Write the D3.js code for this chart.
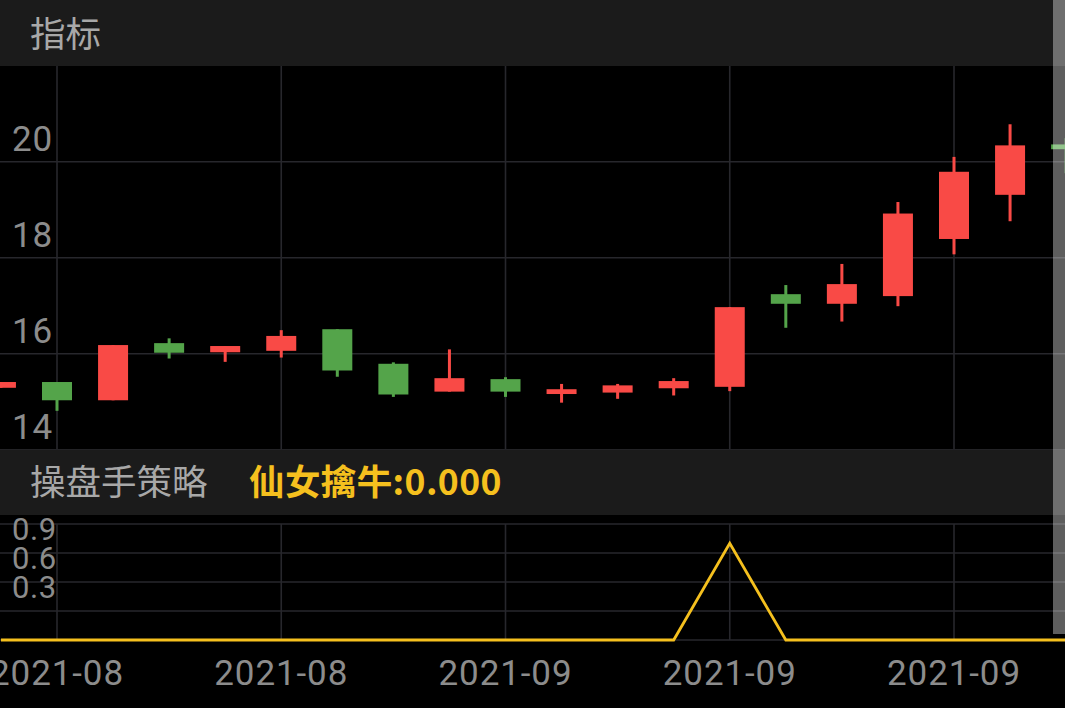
<!DOCTYPE html>
<html>
<head>
<meta charset="utf-8">
<script src="https://cdn.jsdelivr.net/npm/d3@7/dist/d3.min.js"></script>
<style>
  html, body { margin: 0; padding: 0; background: #000; overflow: hidden; }
  svg { display: block; }
</style>
</head>
<body>
<svg id="chart" width="1065" height="708"></svg>
<script>
// ---- data ----
const dates = ["2021-08-24","2021-08-25","2021-08-26","2021-08-27","2021-08-30","2021-08-31",
  "2021-09-01","2021-09-02","2021-09-03","2021-09-06","2021-09-07","2021-09-08","2021-09-09",
  "2021-09-10","2021-09-13","2021-09-14","2021-09-15","2021-09-16","2021-09-17","2021-09-22"];
const openVals  = [15.29, 15.41, 15.03, 16.22, 16.03, 16.06, 16.51, 15.79, 15.21, 15.47, 15.16, 15.19, 15.28, 15.31, 17.24, 17.04, 17.20, 18.39, 19.31, 20.36];
const closeVals = [15.41, 15.03, 16.18, 16.02, 16.16, 16.37, 15.65, 15.15, 15.49, 15.21, 15.26, 15.34, 15.43, 16.97, 17.04, 17.45, 18.92, 19.79, 20.34, 20.26];
const highVals  = [15.41, 15.41, 16.18, 16.32, 16.16, 16.49, 16.51, 15.82, 16.09, 15.51, 15.37, 15.37, 15.49, 16.97, 17.43, 17.87, 19.16, 20.10, 20.78, 20.49];
const lowVals   = [15.29, 14.81, 15.03, 15.90, 15.83, 15.92, 15.52, 15.10, 15.21, 15.10, 14.98, 15.06, 15.13, 15.22, 16.54, 16.67, 16.99, 18.07, 18.76, 19.76];
const signalVals = [0,0,0,0,0,0,0,0,0,0,0,0,0,1,0,0,0,0,0,0];
const xTickDates = ["2021-08-25","2021-08-31","2021-09-06","2021-09-10","2021-09-16"];
const priceTicks = [14, 16, 18, 20];
const signalTicks = [0, 0.3, 0.6, 0.9, 1.2];
const signalLabels = [0.3, 0.6, 0.9];
const panelTitle1 = "指标";
const panelTitle2 = "操盘手策略";
const signalName = "仙女擒牛";

// ---- layout ----
const W = 1065, H = 708;
const RED = "#F94A46", GREEN = "#54A44A", YELLOW = "#F5C01E";
const GRID = "#27272c", LABEL = "#8c8c8c", TITLE = "#a8a8a8", BAR = "#1b1b1b";
const latin = "Roboto, 'Noto Sans', sans-serif";
const cjk = "'Noto Sans CJK SC', 'Noto Sans', sans-serif";

const svg = d3.select("#chart");
svg.append("rect").attr("width", W).attr("height", H).attr("fill", "#000");

const idx = d3.range(dates.length);
const x = d3.scaleLinear().domain([1, 17]).range([57, 954]);
const yMain = d3.scaleLinear().domain([14, 22]).range([449.7, 65.7]);
const ySig = d3.scaleLinear().domain([0, 1.2]).range([640, 524]);
const dateIndex = d => dates.indexOf(d);

const mainTop = 66, mainBottom = 449.7;

svg.append("clipPath").attr("id", "mainClip")
  .append("rect").attr("x", 0).attr("y", mainTop).attr("width", W).attr("height", mainBottom - mainTop);

// main grid
const gMainGrid = svg.append("g");
gMainGrid.selectAll("line.h").data(priceTicks).join("line")
  .attr("x1", 0).attr("x2", W)
  .attr("y1", d => yMain(d)).attr("y2", d => yMain(d))
  .attr("stroke", GRID).attr("stroke-width", 1.6);
gMainGrid.selectAll("line.v").data(xTickDates).join("line")
  .attr("x1", d => x(dateIndex(d))).attr("x2", d => x(dateIndex(d)))
  .attr("y1", mainTop).attr("y2", mainBottom)
  .attr("stroke", GRID).attr("stroke-width", 1.6);

// price labels
svg.append("g").selectAll("text").data(priceTicks).join("text")
  .attr("x", 12).attr("y", d => yMain(d) - 10.5)
  .attr("font-family", latin).attr("font-size", 35).attr("fill", LABEL)
  .attr("letter-spacing", 0.8)
  .text(d => d);

// candles
const gC = svg.append("g").attr("clip-path", "url(#mainClip)");
const bodyW = 30;
const candles = gC.selectAll("g.c").data(idx).join("g");
candles.append("rect")
  .attr("x", i => x(i) - 1.5).attr("width", 3)
  .attr("y", i => yMain(highVals[i]))
  .attr("height", i => Math.max(0.5, yMain(lowVals[i]) - yMain(highVals[i])))
  .attr("fill", i => closeVals[i] >= openVals[i] ? RED : GREEN);
candles.append("rect")
  .attr("x", i => x(i) - bodyW / 2).attr("width", bodyW)
  .attr("y", i => yMain(Math.max(openVals[i], closeVals[i])))
  .attr("height", i => Math.max(2, Math.abs(yMain(openVals[i]) - yMain(closeVals[i]))))
  .attr("fill", i => closeVals[i] >= openVals[i] ? RED : GREEN);

// top header
svg.append("rect").attr("x", 0).attr("y", 0).attr("width", W).attr("height", mainTop).attr("fill", BAR);
svg.append("text").attr("x", 30).attr("y", 46.5)
  .attr("font-family", cjk).attr("font-size", 35.5).attr("fill", TITLE).text(panelTitle1);

// second header
svg.append("rect").attr("x", 0).attr("y", 449.7).attr("width", W).attr("height", 515 - 449.7).attr("fill", BAR);
svg.append("text").attr("x", 30).attr("y", 494.5)
  .attr("font-family", cjk).attr("font-size", 35.5).attr("fill", TITLE).text(panelTitle2);
svg.append("text").attr("x", 249).attr("y", 494.5)
  .attr("font-family", cjk).attr("font-size", 35.5).attr("font-weight", "bold").attr("fill", YELLOW)
  .attr("letter-spacing", 0.4)
  .text(signalName + ":" + d3.format(".3f")(signalVals[signalVals.length - 1]));

// signal grid
const gSigGrid = svg.append("g");
gSigGrid.selectAll("line.h").data(signalTicks).join("line")
  .attr("x1", 0).attr("x2", W)
  .attr("y1", d => ySig(d)).attr("y2", d => ySig(d))
  .attr("stroke", GRID).attr("stroke-width", 1.6);
gSigGrid.selectAll("line.v").data(xTickDates).join("line")
  .attr("x1", d => x(dateIndex(d))).attr("x2", d => x(dateIndex(d)))
  .attr("y1", ySig(1.2)).attr("y2", ySig(0))
  .attr("stroke", GRID).attr("stroke-width", 1.6);

svg.append("g").selectAll("text").data(signalLabels).join("text")
  .attr("x", 12).attr("y", d => ySig(d) - 13)
  .attr("font-family", latin).attr("font-size", 31).attr("fill", LABEL)
  .attr("letter-spacing", 0.6)
  .text(d => d3.format(".1f")(d));

// signal line
const line = d3.line().x(i => x(i)).y(i => ySig(signalVals[i]));
svg.append("path").datum(idx).attr("d", line)
  .attr("fill", "none").attr("stroke", YELLOW).attr("stroke-width", 2.8)
  .attr("stroke-linejoin", "miter");

// x-axis labels
const fmt = d3.timeFormat("%Y-%m");
const parse = d3.timeParse("%Y-%m-%d");
svg.append("g").selectAll("text").data(xTickDates).join("text")
  .attr("x", d => x(dateIndex(d))).attr("y", 685)
  .attr("text-anchor", "middle")
  .attr("font-family", latin).attr("font-size", 35).attr("fill", LABEL)
  .attr("letter-spacing", 0.9)
  .text(d => fmt(parse(d)));

// right scroll overlay
svg.append("rect").attr("x", 1053).attr("y", 0).attr("width", 12).attr("height", 634)
  .attr("fill", "rgba(255,255,255,0.37)");
</script>
</body>
</html>
